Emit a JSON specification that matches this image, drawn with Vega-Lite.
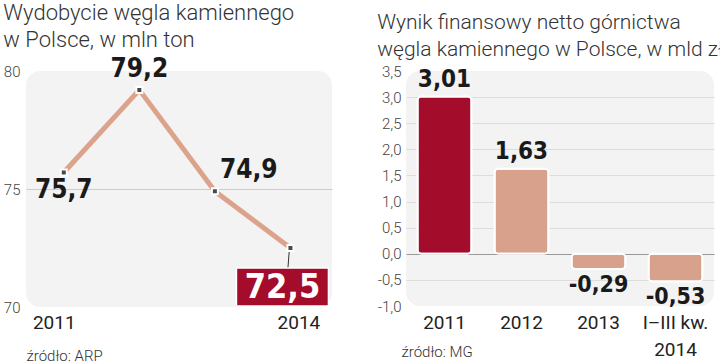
{
  "$schema": "https://vega.github.io/schema/vega-lite/v6.json",
  "padding": {"left": 3, "top": 1, "right": 0, "bottom": 0},
  "background": "white",
  "spacing": 45,
  "config": {
    "locale": {"number": {"decimal": ",", "thousands": "\u00a0", "grouping": [3], "currency": ["", " zł"], "minus": "-"}},
    "view": {"fill": "#f3f3f3", "stroke": null, "cornerRadius": 14},
    "title": {"font": "Roboto", "fontWeight": 300, "fontSize": 22, "color": "#333333", "anchor": "start", "lineHeight": 27},
    "axis": {"labelFont": "Roboto", "titleFont": "Roboto", "ticks": false, "domain": false}
  },
  "hconcat": [
    {
      "title": {"text": ["Wydobycie węgla kamiennego", "w Polsce, w mln ton"], "offset": 4},
      "width": 306,
      "height": 236,
      "data": {"values": [
        {"year": 2011, "value": 75.7},
        {"year": 2012, "value": 79.2},
        {"year": 2013, "value": 74.9},
        {"year": 2014, "value": 72.5}
      ]},
      "encoding": {
        "x": {"field": "year", "type": "quantitative", "scale": {"domain": [2010.5, 2014.55], "nice": false, "zero": false},
          "axis": {"values": [2011, 2014], "format": "d", "grid": false, "labelFontSize": 19, "labelColor": "#222222", "labelPadding": 6,
            "labelOffset": {"condition": {"test": "datum.value == 2011", "value": -10}, "value": 8},
            "title": "źródło: ARP", "titleAnchor": "start", "titleFontSize": 15, "titleFontWeight": 300, "titleColor": "#333333", "titleY": 53, "titleBaseline": "alphabetic"}},
        "y": {"field": "value", "type": "quantitative", "scale": {"domain": [70, 80], "nice": false, "zero": false},
          "axis": {"values": [70, 75, 80], "title": null, "labelFontSize": 15, "labelFontWeight": 300, "labelColor": "#444444", "labelPadding": 6,
            "gridColor": {"condition": {"test": "datum.value == 75", "value": "#cccccc"}, "value": "transparent"}}}
      },
      "layer": [
        {"mark": {"type": "line", "color": "#dba38c", "strokeWidth": 5, "strokeCap": "round", "strokeJoin": "round"}},
        {"transform": [{"filter": "datum.year == 2014"}],
         "mark": {"type": "point", "shape": "M0,-1L-0.15,1", "size": 400, "filled": false, "stroke": "#333333", "strokeWidth": 1, "xOffset": -1, "yOffset": 10, "opacity": 1}},
        {"mark": {"type": "point", "shape": "square", "size": 36, "filled": true, "fill": "#4a4a4a", "stroke": "white", "strokeWidth": 2, "opacity": 1}},
        {"transform": [{"filter": "datum.year == 2014"}],
         "mark": {"type": "point", "shape": "M-1,-0.413H1V0.413H-1Z", "size": 8464, "filled": true, "fill": "#a30d2b", "stroke": "white", "strokeWidth": 1.5, "xOffset": -8, "yOffset": 39, "opacity": 1}},
        {"transform": [{"filter": "datum.year == 2014"}],
         "mark": {"type": "text", "font": "Liberation Sans Narrow, DejaVu Sans Condensed, sans-serif", "fontWeight": "bold", "fontSize": 34, "color": "white", "align": "center", "baseline": "middle", "dx": -8, "dy": 40},
         "encoding": {"text": {"field": "value", "type": "quantitative", "format": ".1f"}}},
        {"transform": [{"filter": "datum.year == 2012"}],
         "mark": {"type": "text", "font": "Liberation Sans Narrow, DejaVu Sans Condensed, sans-serif", "fontWeight": "bold", "fontSize": 26, "color": "#1a1a1a", "align": "center", "baseline": "alphabetic", "dy": -13},
         "encoding": {"text": {"field": "value", "type": "quantitative", "format": ".1f"}}},
        {"transform": [{"filter": "datum.year == 2011"}],
         "mark": {"type": "text", "font": "Liberation Sans Narrow, DejaVu Sans Condensed, sans-serif", "fontWeight": "bold", "fontSize": 26, "color": "#1a1a1a", "align": "center", "baseline": "top", "dy": 5},
         "encoding": {"text": {"field": "value", "type": "quantitative", "format": ".1f"}}},
        {"transform": [{"filter": "datum.year == 2013"}],
         "mark": {"type": "text", "font": "Liberation Sans Narrow, DejaVu Sans Condensed, sans-serif", "fontWeight": "bold", "fontSize": 26, "color": "#1a1a1a", "align": "left", "baseline": "alphabetic", "dx": 5, "dy": -13},
         "encoding": {"text": {"field": "value", "type": "quantitative", "format": ".1f"}}}
      ]
    },
    {
      "title": {"text": ["Wynik finansowy netto górnictwa", "węgla kamiennego w Polsce, w mld zł"], "offset": 4, "fontSize": 21},
      "width": 308,
      "height": 235,
      "data": {"values": [
        {"period": "2011", "value": 3.01},
        {"period": "2012", "value": 1.63},
        {"period": "2013", "value": -0.29},
        {"period": "I–III kw.|2014", "value": -0.53}
      ]},
      "encoding": {
        "x": {"field": "period", "type": "nominal", "sort": null, "scale": {"paddingInner": 0.3, "paddingOuter": 0.15},
          "axis": {"labelAngle": 0, "labelExpr": "split(datum.label, '|')", "labelFontSize": 19, "labelColor": "#222222", "labelPadding": 7, "labelLineHeight": 27, "labelBaseline": "top",
            "title": "źródło: MG", "titleAnchor": "start", "titleFontSize": 15, "titleFontWeight": 300, "titleColor": "#333333", "titleY": 50, "titleX": -5, "titleBaseline": "alphabetic"}},
        "y": {"field": "value", "type": "quantitative", "scale": {"domain": [-1, 3.5], "nice": false, "zero": false},
          "axis": {"values": [-1, -0.5, 0, 0.5, 1, 1.5, 2, 2.5, 3, 3.5], "format": ".1f", "title": null, "labelFontSize": 15, "labelFontWeight": 300, "labelColor": "#444444", "labelPadding": 5,
            "gridColor": {"condition": [{"test": "datum.value == 0", "value": "#999999"}, {"test": "datum.value == 3.5 || datum.value == -1", "value": "transparent"}], "value": "#dddddd"}}}
      },
      "layer": [
        {"mark": {"type": "bar", "cornerRadius": 4, "stroke": "white", "strokeWidth": 2},
         "encoding": {"color": {"condition": {"test": "datum.period == '2011'", "value": "#a30d2b"}, "value": "#d8a18b"}}},
        {"transform": [{"filter": "datum.value >= 0"}],
         "mark": {"type": "text", "font": "Liberation Sans Narrow, DejaVu Sans Condensed, sans-serif", "fontWeight": "bold", "fontSize": 24, "color": "#1a1a1a", "align": "center", "baseline": "alphabetic", "dy": -10},
         "encoding": {"text": {"field": "value", "type": "quantitative", "format": ".2f"}}},
        {"transform": [{"filter": "datum.value < 0"}],
         "mark": {"type": "text", "font": "Liberation Sans Narrow, DejaVu Sans Condensed, sans-serif", "fontWeight": "bold", "fontSize": 23, "color": "#1a1a1a", "align": "center", "baseline": "top", "dy": 5},
         "encoding": {"text": {"field": "value", "type": "quantitative", "format": ".2f"}}}
      ]
    }
  ]
}
